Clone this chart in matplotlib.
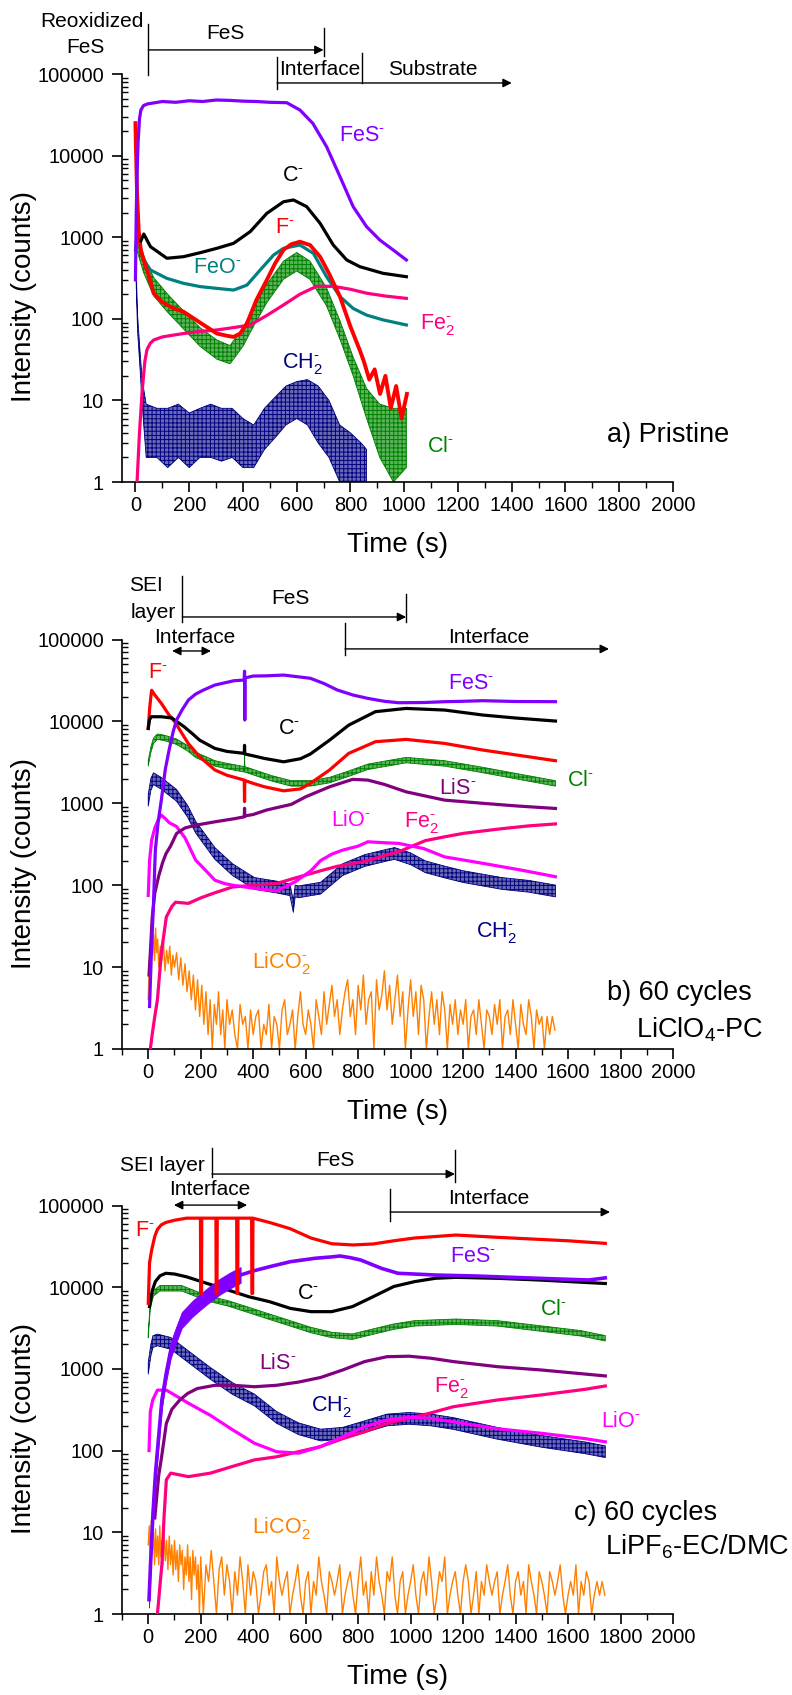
import numpy as np
import matplotlib
matplotlib.use('Agg')
import matplotlib.pyplot as plt
from matplotlib.ticker import FixedLocator, FixedFormatter, MultipleLocator, LogLocator, NullFormatter

plt.rcParams['font.family'] = ['Liberation Sans', 'DejaVu Sans']
plt.rcParams['mathtext.fontset'] = 'custom'
plt.rcParams['mathtext.rm'] = 'Liberation Sans'
plt.rcParams['mathtext.it'] = 'Liberation Sans:italic'
plt.rcParams['mathtext.bf'] = 'Liberation Sans:bold'
plt.rcParams['hatch.linewidth'] = 0.7

# ---------------- axis ticks ----------------
x_ticks = [0, 200, 400, 600, 800, 1000, 1200, 1400, 1600, 1800, 2000]
x_tick_labels = ['0', '200', '400', '600', '800', '1000', '1200', '1400', '1600', '1800', '2000']
y_ticks = [1, 10, 100, 1000, 10000, 100000]
y_tick_labels = ['1', '10', '100', '1000', '10000', '100000']

# ---------------- panel a: pristine ----------------
fes_a_t = [0, 3, 6, 10, 15, 20, 30, 45, 100, 150, 200, 250, 300, 350, 400, 450, 500, 563, 612, 660, 711, 761, 810, 860, 909, 959, 1008]
fes_a_v = [300, 2000, 6000, 15000, 28000, 36000, 41000, 43000, 46000, 45000, 47000, 46000, 48000, 47500, 46500, 46000, 45000, 44500, 36200, 24800, 12900, 5520, 2370, 1345, 925, 697, 526]
c_a_t = [20, 31, 56, 117, 179, 241, 303, 365, 427, 489, 551, 588, 637, 687, 736, 786, 835, 921, 1008]
c_a_v = [900, 1094, 765, 552, 577, 646, 731, 841, 1170, 1963, 2720, 2860, 2370, 1480, 802, 526, 435, 361, 328]
f_a_t = [0, 2, 6, 12, 20, 31, 45, 68, 100, 140, 179, 240, 303, 340, 365, 390, 415, 450, 489, 520, 551, 580, 612, 650, 687, 720, 761, 800, 835, 850, 870, 890, 910, 930, 950, 970, 990, 1010]
f_a_v = [25000, 12000, 3400, 1200, 700, 520, 380, 205, 160, 135, 122, 90, 66, 62, 60, 66, 88, 170, 300, 480, 700, 820, 880, 800, 575, 360, 187, 80, 41, 30, 18, 24, 12, 20, 8, 15, 6, 12]
feo_a_t = [0, 6, 15, 31, 56, 117, 179, 241, 303, 365, 415, 464, 514, 551, 612, 662, 711, 761, 810, 860, 921, 1008]
feo_a_v = [700, 1050, 800, 526, 396, 313, 272, 248, 236, 225, 259, 396, 605, 731, 802, 634, 328, 187, 134, 111, 97, 84]
fe2_a_t = [6, 15, 25, 35, 43, 55, 68, 100, 140, 179, 240, 303, 365, 427, 489, 551, 612, 674, 736, 800, 860, 930, 1008]
fe2_a_v = [1, 4, 13, 30, 42, 50, 55, 60, 63, 66, 70, 73, 78, 84, 110, 148, 200, 250, 250, 230, 206, 190, 178]
ch2_a_t = [0, 3, 8, 16, 25, 40, 80, 120, 160, 200, 240, 280, 320, 360, 400, 440, 480, 520, 560, 600, 640, 680, 720, 760, 800, 840, 860]
ch2_a_hi = [1000, 400, 110, 45, 18, 9, 8, 8, 9, 7, 8, 9, 8, 8, 6, 5, 8, 11, 15, 17, 18, 15, 10, 5, 4, 3, 2.5]
ch2_a_lo = [700, 250, 70, 28, 9, 2, 2, 1.5, 2, 1.5, 2, 2, 1.8, 2, 1.5, 1.5, 2.5, 3.5, 5, 6, 5, 3, 2, 1, 1, 1, 1]
cl_a_t = [5, 30, 68, 120, 179, 240, 303, 352, 402, 427, 489, 551, 600, 649, 711, 761, 810, 860, 909, 960, 1008]
cl_a_hi = [1100, 600, 320, 200, 125, 78, 55, 47, 80, 115, 265, 510, 650, 510, 240, 95, 34, 14, 9, 8, 8]
cl_a_lo = [700, 370, 190, 120, 75, 46, 32, 28, 47, 68, 158, 305, 385, 305, 144, 56, 20, 6, 2, 1, 1.5]

# ---------------- panel b: 60 cycles LiClO4-PC ----------------
fes_b_t = [5, 12, 20, 27, 38, 50, 65, 79, 95, 108, 130, 153, 180, 211, 254, 300, 327, 366, 367, 368, 369, 400, 450, 516, 618, 670, 720, 780, 837, 900, 954, 1050, 1129, 1200, 1275, 1400, 1552]
fes_b_v = [3.3, 15, 60, 268, 600, 1100, 2600, 4400, 7500, 10400, 14000, 18200, 21500, 24200, 27800, 30000, 31400, 32000, 41000, 10400, 34000, 35800, 36000, 36800, 33600, 29000, 24200, 21000, 19100, 17600, 16900, 17000, 17400, 17600, 17900, 17500, 17400]
c_b_t = [0, 5, 12, 20, 50, 90, 108, 137, 170, 196, 254, 300, 366, 367, 368, 400, 443, 516, 580, 618, 691, 764, 866, 983, 1129, 1275, 1400, 1552]
c_b_v = [8200, 10500, 11400, 11400, 11400, 11000, 10000, 8600, 7000, 5900, 4680, 4300, 4070, 5100, 4000, 3800, 3530, 3210, 3500, 4000, 5900, 9000, 13150, 14400, 13760, 11960, 11000, 10100]
f_b_t = [0, 5, 10, 13, 25, 50, 79, 100, 152, 196, 254, 300, 366, 367, 368, 400, 443, 516, 580, 618, 691, 764, 866, 983, 1129, 1275, 1552]
f_b_v = [8200, 14000, 20000, 24000, 21000, 16600, 12000, 10000, 5400, 3700, 2550, 2200, 1920, 1050, 1900, 1750, 1590, 1420, 1500, 1750, 2550, 4070, 5650, 6030, 5390, 4470, 3310]
cl_b_t = [0, 10, 20, 35, 60, 108, 150, 181, 254, 300, 366, 367, 368, 400, 472, 545, 618, 691, 764, 837, 983, 1129, 1275, 1400, 1552]
cl_b_v = [3070, 4500, 5800, 6500, 6300, 5650, 4700, 3900, 3070, 2850, 2600, 3900, 2600, 2400, 2010, 1750, 1750, 1920, 2300, 2790, 3370, 3070, 2550, 2150, 1750]
lis_b_t = [3, 8, 15, 25, 40, 55, 68, 85, 108, 140, 181, 254, 330, 366, 367, 368, 400, 450, 500, 545, 600, 691, 779, 837, 900, 983, 1129, 1275, 1400, 1552]
lis_b_v = [8, 15, 40, 80, 130, 190, 244, 300, 428, 500, 541, 594, 650, 684, 870, 700, 730, 826, 900, 970, 1200, 1590, 1960, 1920, 1700, 1380, 1094, 1000, 930, 865]
lio_b_t = [0, 5, 13, 25, 40, 50, 65, 80, 108, 140, 181, 220, 254, 290, 321, 400, 489, 560, 620, 657, 700, 741, 800, 837, 900, 954, 1050, 1129, 1275, 1421, 1552]
lio_b_v = [75, 200, 355, 500, 650, 718, 650, 580, 520, 380, 202, 150, 115, 105, 100, 92, 85, 110, 150, 200, 240, 268, 300, 339, 330, 324, 280, 222, 185, 153, 127]
fe2_b_t = [8, 15, 25, 35, 50, 69, 90, 104, 153, 200, 250, 321, 400, 489, 570, 657, 720, 825, 900, 960, 1056, 1130, 1202, 1348, 1450, 1552]
fe2_b_v = [1, 1.5, 2.5, 4, 15, 41, 55, 62, 60, 70, 80, 95, 100, 105, 125, 150, 170, 195, 230, 260, 350, 390, 430, 490, 530, 560]
ch2_b_t = [0, 10, 20, 50, 108, 150, 181, 254, 321, 405, 489, 540, 553, 560, 573, 657, 741, 825, 910, 939, 1000, 1056, 1129, 1202, 1348, 1450, 1552]
ch2_b_v = [1090, 1700, 2000, 1750, 1250, 800, 510, 244, 155, 105, 95, 88, 55, 85, 83, 92, 155, 200, 233, 244, 210, 168, 145, 127, 105, 97, 85]
lico2_b_t = [0, 4, 8, 12, 16, 20, 24, 28, 32, 36, 40,
             46, 52, 58, 64, 70, 76, 82, 88, 94, 100,
             108, 116, 124, 132, 140, 148, 156, 164, 172, 180, 188, 196, 204, 212, 220, 228, 236, 244, 252, 260, 268, 276, 284, 292, 300,
             310, 320, 330, 340, 350, 360, 370, 380, 390, 400,
             410, 420, 430, 440, 450, 460, 470, 480, 490, 500,
             510, 520, 530, 540, 550, 560, 570, 580, 590, 600,
             610, 620, 630, 640, 650, 660, 670, 680, 690, 700,
             710, 720, 730, 740, 750, 760, 770, 780, 790, 800,
             810, 820, 830, 840, 850, 860, 870, 880, 890, 900,
             910, 920, 930, 940, 950, 960, 970, 980, 990, 1000,
             1010, 1020, 1030, 1040, 1050, 1060, 1070, 1080, 1090, 1100,
             1110, 1120, 1130, 1140, 1150, 1160, 1170, 1180, 1190, 1200,
             1210, 1220, 1230, 1240, 1250, 1260, 1270, 1280, 1290, 1300,
             1310, 1320, 1330, 1340, 1350, 1360, 1370, 1380, 1390, 1400,
             1410, 1420, 1430, 1440, 1450, 1460, 1470, 1480, 1490, 1500,
             1510, 1520, 1530, 1540, 1550]
lico2_b_v = [4, 12, 8, 20, 14, 25, 12, 30, 15, 22, 10,
             18, 12, 20, 9, 16, 11, 18, 8, 14, 10,
             15, 7, 13, 6, 11, 5, 9, 4, 8, 3, 7, 2.5, 6, 2, 5, 1.5, 4, 1, 3.5, 2, 5, 1.5, 3, 1, 4,
             2, 3, 1.5, 1, 3.5, 2, 2.5, 1, 3, 1.5,
             2.5, 3, 1, 2, 1.5, 3.5, 1, 2.5, 2, 1,
             3, 4, 1.5, 2, 3, 1, 2.5, 5, 2, 1.5,
             3, 2, 1, 4, 2.5, 1.5, 5, 2, 3.5, 6,
             2.5, 4, 1.5, 3, 5, 7, 2.5, 4, 1.5, 6,
             3, 8, 2, 4, 5, 1, 7, 3, 4.5, 9,
             3, 6, 2, 4, 8, 2.5, 5, 1, 3, 7,
             2.5, 5, 1.5, 6, 4, 1, 2.5, 5, 2, 4,
             1.5, 5, 3, 1, 3.5, 2, 4, 1.5, 3, 2,
             4, 1, 2.5, 3, 1.5, 4, 2, 1, 3, 2.5,
             1.5, 3.5, 2, 4, 1, 2.5, 3, 1.5, 4, 2,
             1, 3.5, 2, 1.5, 4, 2.5, 1, 3, 2, 2.5,
             1, 2.5, 1.5, 2.5, 1.7]

# ---------------- panel c: 60 cycles LiPF6-EC/DMC ----------------
f_c_t = [0, 5, 13, 25, 35, 50, 67, 100, 146, 199, 200, 203, 204, 258, 259, 262, 263, 337, 338, 341, 342, 394, 395, 398, 399, 462, 541, 620, 700, 780, 857, 936, 1015, 1173, 1331, 1489, 1600, 1742]
f_c_v = [6340, 20000, 28500, 42000, 51000, 58000, 62000, 66000, 70000, 70000, 8400, 8400, 70000, 70000, 8400, 8400, 70000, 70000, 8400, 8400, 70000, 70000, 8400, 8400, 70000, 62000, 52000, 40000, 34000, 32900, 33800, 37000, 40000, 43500, 40800, 38500, 37000, 34400]
c_c_t = [5, 15, 27, 45, 67, 100, 146, 225, 304, 383, 462, 541, 620, 699, 778, 857, 936, 1015, 1094, 1173, 1331, 1489, 1742]
c_c_v = [5780, 9000, 11700, 13800, 14800, 14500, 13400, 11100, 9240, 7650, 6650, 5510, 5020, 5020, 5780, 7650, 10200, 11700, 12850, 13200, 12850, 12250, 11100]
cl_c_t = [0, 8, 20, 44, 128, 225, 304, 383, 462, 541, 620, 699, 778, 857, 936, 1015, 1173, 1331, 1489, 1647, 1742]
cl_c_v = [2600, 6000, 8400, 9690, 9690, 7310, 6340, 5260, 4350, 3610, 2990, 2600, 2480, 2860, 3290, 3610, 3780, 3610, 3140, 2730, 2370]
fes_c_t = [3, 10, 18, 27, 35, 52, 69, 86, 100, 128, 170, 196, 230, 273, 310, 352, 400, 462, 541, 636, 700, 731, 770, 810, 889, 952, 1094, 1252, 1489, 1679, 1742]
fes_c_v = [1.5, 5, 17, 50, 100, 416, 900, 1700, 2300, 3970, 5500, 6500, 8000, 10150, 12000, 14100, 15800, 17800, 20500, 22600, 23500, 24100, 23000, 21500, 17000, 14800, 14100, 13700, 12850, 12250, 13000]
lis_c_t = [25, 40, 51, 69, 90, 120, 150, 187, 254, 321, 405, 489, 573, 657, 741, 825, 910, 994, 1078, 1162, 1330, 1498, 1742]
lis_c_v = [15, 50, 84, 215, 320, 416, 500, 575, 630, 630, 605, 630, 690, 785, 970, 1230, 1410, 1430, 1350, 1230, 1065, 970, 820]
ch2_c_t = [0, 10, 18, 35, 86, 153, 237, 321, 405, 489, 573, 657, 741, 825, 910, 994, 1078, 1162, 1330, 1498, 1666, 1742]
ch2_c_v = [1020, 1700, 2160, 2260, 2055, 1410, 880, 575, 416, 255, 185, 155, 163, 196, 237, 248, 237, 215, 163, 130, 108, 97]
lio_c_t = [3, 8, 17, 35, 69, 153, 237, 321, 405, 489, 573, 657, 741, 825, 910, 994, 1078, 1162, 1330, 1498, 1666, 1742]
lio_c_v = [100, 300, 416, 550, 550, 380, 270, 180, 123, 97, 93, 112, 148, 196, 237, 255, 248, 225, 185, 163, 140, 128]
fe2_c_t = [35, 40, 46, 52, 60, 69, 86, 153, 237, 321, 405, 489, 573, 657, 741, 825, 910, 994, 1078, 1162, 1330, 1498, 1666, 1742]
fe2_c_v = [1, 1.5, 2.5, 4, 15, 44, 53, 48, 53, 64, 77, 84, 97, 112, 140, 170, 215, 248, 290, 344, 416, 480, 563, 618]
lico2_c_t = [0, 4, 8, 12, 16, 20, 24, 28, 32, 36, 40, 44, 48, 52, 56, 60,
             65, 70, 75, 80, 85, 90, 95, 100, 105, 110, 115, 120, 125, 130, 135, 140, 145, 150, 155, 160, 165, 170, 175, 180, 185, 190, 195, 200,
             210, 220, 230, 240, 250, 260, 270, 280, 290, 300,
             310, 320, 330, 340, 350, 360, 370, 380, 390, 400,
             410, 420, 430, 440, 450, 460, 470, 480, 490, 500,
             510, 520, 530, 540, 550, 560, 570, 580, 590, 600,
             610, 620, 630, 640, 650, 660, 670, 680, 690, 700,
             710, 720, 730, 740, 750, 760, 770, 780, 790, 800,
             810, 820, 830, 840, 850, 860, 870, 880, 890, 900,
             910, 920, 930, 940, 950, 960, 970, 980, 990, 1000,
             1010, 1020, 1030, 1040, 1050, 1060, 1070, 1080, 1090, 1100,
             1110, 1120, 1130, 1140, 1150, 1160, 1170, 1180, 1190, 1200,
             1210, 1220, 1230, 1240, 1250, 1260, 1270, 1280, 1290, 1300,
             1310, 1320, 1330, 1340, 1350, 1360, 1370, 1380, 1390, 1400,
             1410, 1420, 1430, 1440, 1450, 1460, 1470, 1480, 1490, 1500,
             1510, 1520, 1530, 1540, 1550, 1560, 1570, 1580, 1590, 1600,
             1610, 1620, 1630, 1640, 1650, 1660, 1670, 1680, 1690, 1700,
             1710, 1720, 1730, 1740]
lico2_c_v = [7, 12, 5, 14, 6, 10, 4, 11, 5, 9, 4, 12, 5, 8, 4, 10,
             4.5, 8, 3.5, 9, 4, 7, 3, 8, 3.5, 6, 2.5, 7, 4, 6, 2, 5, 3, 7, 2.5, 5, 1.5, 6, 3, 5, 2, 4, 1, 5,
             1, 4, 2.5, 6, 2.5, 1, 3.5, 5, 1.7, 4,
             2.5, 1, 3.3, 1.7, 5, 2.5, 1, 4, 1.7, 3.3,
             2.5, 1, 1.7, 3.3, 4, 1.7, 2.5, 1, 5, 2.5,
             1.7, 2.5, 3.3, 1, 1.7, 2.5, 4, 1.7, 1, 2.5,
             3.3, 1, 2.5, 1.7, 5, 2.5, 1.7, 1, 3.3, 2.5,
             1.7, 2.5, 4, 1, 1.7, 2.5, 3.3, 1.7, 1, 2.5,
             5, 1.7, 2.5, 1, 3.3, 1.7, 5, 2.5, 1.7, 1,
             3.3, 2.5, 5, 1.7, 1, 2.5, 3.3, 1, 1.7, 2.5,
             4, 1.7, 1, 2.5, 3.3, 1.7, 5, 2.5, 1, 1.7,
             3.3, 2.5, 5, 1, 1.7, 2.5, 3.3, 1.7, 1, 2.5,
             4, 2.5, 1, 1.7, 3.3, 1, 2.5, 1.7, 4, 2.5,
             1.7, 2.5, 3.3, 1, 1.7, 2.5, 4, 1.7, 1, 2.5,
             3.3, 1.7, 2.5, 1, 4, 2.5, 1.7, 1, 3.3, 2.5,
             1.7, 1, 3.3, 2.5, 1.7, 2.5, 4, 1.7, 1, 1.7,
             2.5, 1.7, 4, 1, 2.5, 1.7, 3.3, 2.5, 1, 1.7,
             2.5, 1.7, 2.5, 1.7]

# ---------------- colours ----------------
COL = dict(fes='#8000FF', c='#000000', f='#FF0000', feo='#008080', fe2='#FF0080',
           ch2='#000080', cl='#008000', lis='#800080', lio='#FF00FF', lico2='#FF8000')
FACE = dict(ch2='#6a6ab4', cl='#5cb35c', fes='#8000FF')
M = r'$^{\text{-}}$'
M2 = r'$_{2}^{\text{-}}$'

W, H = 792, 1695
fig = plt.figure(figsize=(W / 100, H / 100), dpi=100)

AX_L, AX_R = 122, 673


def make_axes(top_px, bottom_px, xmin):
    ax = fig.add_axes([AX_L / W, 1 - bottom_px / H, (AX_R - AX_L) / W, (bottom_px - top_px) / H])
    ax.set_yscale('log')
    ax.set_xlim(xmin, 2000)
    ax.set_ylim(1, 1e5)
    ax.spines[['top', 'right']].set_visible(False)
    for s in ['left', 'bottom']:
        ax.spines[s].set_linewidth(1.2)
    ax.xaxis.set_major_locator(FixedLocator(x_ticks))
    ax.xaxis.set_major_formatter(FixedFormatter(x_tick_labels))
    ax.xaxis.set_minor_locator(MultipleLocator(100))
    ax.yaxis.set_major_locator(FixedLocator(y_ticks))
    ax.yaxis.set_major_formatter(FixedFormatter(y_tick_labels))
    ax.yaxis.set_minor_locator(LogLocator(base=10, subs=(2, 3, 4, 5, 6, 7, 8, 9)))
    ax.yaxis.set_minor_formatter(NullFormatter())
    ax.tick_params(axis='x', which='major', direction='out', length=7, width=1.2, labelsize=14.4, pad=3)
    ax.tick_params(axis='x', which='minor', direction='out', length=4, width=1.0)
    ax.tick_params(axis='y', which='major', direction='out', length=7, width=1.2, labelsize=14.4, pad=6)
    ax.tick_params(axis='y', which='minor', direction='in', length=4, width=1.0)
    fig.text(24 / W, 1 - ((top_px + bottom_px) / 2 + 19) / H, 'Intensity (counts)', rotation=90,
             ha='center', va='center', fontsize=20)
    fig.text((AX_L + AX_R) / 2 / W, 1 - (bottom_px + 63) / H, 'Time (s)', ha='center', va='center', fontsize=20)
    return ax


def line(ax, t, v, key, lw=2.3, z=3):
    ax.plot(t, v, color=COL[key], lw=lw, zorder=z, solid_joinstyle='round')


def band(ax, t, lo, hi, key, z=2, hatch='++++'):
    ax.fill_between(t, lo, hi, facecolor=FACE[key], edgecolor=COL[key], hatch=hatch, linewidth=0.6, zorder=z)


def cband(ax, t, v, key, f=1.18, z=2, hatch='++++'):
    v = np.asarray(v, float)
    band(ax, t, v / f, v * f, key, z, hatch)


def lab(ax, x, y, s, key, fs=15.5):
    ax.text(x, y, s, color=COL[key], fontsize=fs, ha='center', va='center', zorder=10)


def vbar(ax, x, y0, y1):
    ax.plot([x, x], [y0, y1], color='k', lw=1.0, transform=ax.get_xaxis_transform(), clip_on=False)


def arrow(ax, x0, x1, y, both=False):
    ax.annotate('', xy=(x1, y), xytext=(x0, y), xycoords=ax.get_xaxis_transform(),
                textcoords=ax.get_xaxis_transform(), annotation_clip=False,
                arrowprops=dict(arrowstyle='<|-|>' if both else '-|>', color='k', lw=1.0,
                                mutation_scale=13, shrinkA=0, shrinkB=0))


def atext(ax, x, y, s, trans='x', ha='center', fs=15):
    tr = ax.get_xaxis_transform() if trans == 'x' else ax.transAxes
    ax.text(x, y, s, transform=tr, ha=ha, va='center', fontsize=fs, clip_on=False)


# ================= panel a =================
axa = make_axes(74, 482, -50)
band(axa, ch2_a_t, ch2_a_lo, ch2_a_hi, 'ch2')
band(axa, cl_a_t, cl_a_lo, cl_a_hi, 'cl')
line(axa, feo_a_t, feo_a_v, 'feo')
line(axa, fe2_a_t, fe2_a_v, 'fe2')
line(axa, f_a_t, f_a_v, 'f', lw=2.8)
line(axa, c_a_t, c_a_v, 'c')
line(axa, fes_a_t, fes_a_v, 'fes')
lab(axa, 843, 17800, 'FeS' + M, 'fes')
lab(axa, 586, 5780, 'C' + M, 'c')
lab(axa, 557, 1333, 'F' + M, 'f')
lab(axa, 304, 431, 'FeO' + M, 'feo')
lab(axa, 1122, 84, 'Fe' + M2, 'fe2')
lab(axa, 623, 28.7, 'CH' + M2, 'ch2')
lab(axa, 1133, 2.69, 'Cl' + M, 'cl')
axa.text(0.880, 0.115, 'a) Pristine', transform=axa.transAxes, ha='left', va='center', fontsize=19.5)
atext(axa, -0.054, 1.128, 'Reoxidized', trans='a')
atext(axa, -0.067, 1.064, 'FeS', trans='a')
vbar(axa, 48, 0.998, 1.122)
arrow(axa, 48, 700, 1.059)
vbar(axa, 700, 1.044, 1.112)
atext(axa, 333, 1.100, 'FeS')
vbar(axa, 527, 0.963, 1.042)
vbar(axa, 843, 0.978, 1.051)
arrow(axa, 527, 1400, 0.978)
atext(axa, 687, 1.010, 'Interface')
atext(axa, 1107, 1.010, 'Substrate')

# ================= panel b =================
axb = make_axes(639.5, 1049, -100)
line(axb, lico2_b_t, lico2_b_v, 'lico2', lw=1.0, z=2)
cband(axb, ch2_b_t, ch2_b_v, 'ch2')
line(axb, fe2_b_t, fe2_b_v, 'fe2')
line(axb, lio_b_t, lio_b_v, 'lio')
line(axb, lis_b_t, lis_b_v, 'lis')
cband(axb, cl_b_t, cl_b_v, 'cl', f=1.08)
line(axb, f_b_t, f_b_v, 'f')
line(axb, c_b_t, c_b_v, 'c')
line(axb, fes_b_t, fes_b_v, 'fes')
lab(axb, 35, 39000, 'F' + M, 'f')
lab(axb, 1230, 29400, 'FeS' + M, 'fes')
lab(axb, 537, 8300, 'C' + M, 'c')
lab(axb, 1646, 1920, 'Cl' + M, 'cl')
lab(axb, 1181, 1535, 'LiS' + M, 'lis')
lab(axb, 773, 624, 'LiO' + M, 'lio')
lab(axb, 1040, 589, 'Fe' + M2, 'fe2')
lab(axb, 1329, 26.7, 'CH' + M2, 'ch2')
lab(axb, 506, 11.2, 'LiCO' + M2, 'lico2')
axb.text(0.880, 0.137, 'b) 60 cycles', transform=axb.transAxes, ha='left', va='center', fontsize=19.5)
axb.text(0.933, 0.046, 'LiClO$_4$-PC', transform=axb.transAxes, ha='left', va='center', fontsize=19.5)
atext(axb, 0.013, 1.133, 'SEI', trans='a', ha='left')
atext(axb, 0.016, 1.065, 'layer', trans='a', ha='left')
vbar(axb, 130, 1.043, 1.155)
arrow(axb, 130, 983, 1.055)
vbar(axb, 983, 1.043, 1.111)
atext(axb, 541, 1.101, 'FeS')
atext(axb, 178, 1.004, 'Interface')
arrow(axb, 91, 239, 0.972, both=True)
vbar(axb, 750, 0.962, 1.040)
arrow(axb, 750, 1756, 0.977)
atext(axb, 1299, 1.006, 'Interface')

# ================= panel c =================
axc = make_axes(1205.5, 1614, -100)
line(axc, lico2_c_t, lico2_c_v, 'lico2', lw=1.0, z=2)
cband(axc, ch2_c_t, ch2_c_v, 'ch2')
line(axc, fe2_c_t, fe2_c_v, 'fe2')
line(axc, lio_c_t, lio_c_v, 'lio')
line(axc, lis_c_t, lis_c_v, 'lis')
cband(axc, cl_c_t, cl_c_v, 'cl', f=1.08)
line(axc, c_c_t, c_c_v, 'c')
cband(axc, fes_c_t[:16], fes_c_v[:16], 'fes', f=1.25, z=3, hatch=None)
line(axc, fes_c_t, fes_c_v, 'fes', lw=2.6)
line(axc, f_c_t, f_c_v, 'f')
lab(axc, -12, 50000, 'F' + M, 'f')
lab(axc, 1236, 23500, 'FeS' + M, 'fes')
lab(axc, 607, 8490, 'C' + M, 'c')
lab(axc, 1543, 5260, 'Cl' + M, 'cl')
lab(axc, 495, 1180, 'LiS' + M, 'lis')
lab(axc, 700, 342, 'CH' + M2, 'ch2')
lab(axc, 1154, 584, 'Fe' + M2, 'fe2')
lab(axc, 1800, 224, 'LiO' + M, 'lio')
lab(axc, 509, 11.3, 'LiCO' + M2, 'lico2')
axc.text(0.820, 0.247, 'c) 60 cycles', transform=axc.transAxes, ha='left', va='center', fontsize=19.5)
axc.text(0.877, 0.164, 'LiPF$_6$-EC/DMC', transform=axc.transAxes, ha='left', va='center', fontsize=19.5)
atext(axc, 0.073, 1.099, 'SEI layer', trans='a')
vbar(axc, 243, 1.070, 1.141)
arrow(axc, 243, 1169, 1.077)
vbar(axc, 1169, 1.057, 1.136)
atext(axc, 712, 1.111, 'FeS')
atext(axc, 236, 1.038, 'Interface')
arrow(axc, 98, 377, 1.001, both=True)
vbar(axc, 922, 0.962, 1.040)
arrow(axc, 922, 1760, 0.984)
atext(axc, 1299, 1.018, 'Interface')

fig.savefig('out.png', dpi=100)
